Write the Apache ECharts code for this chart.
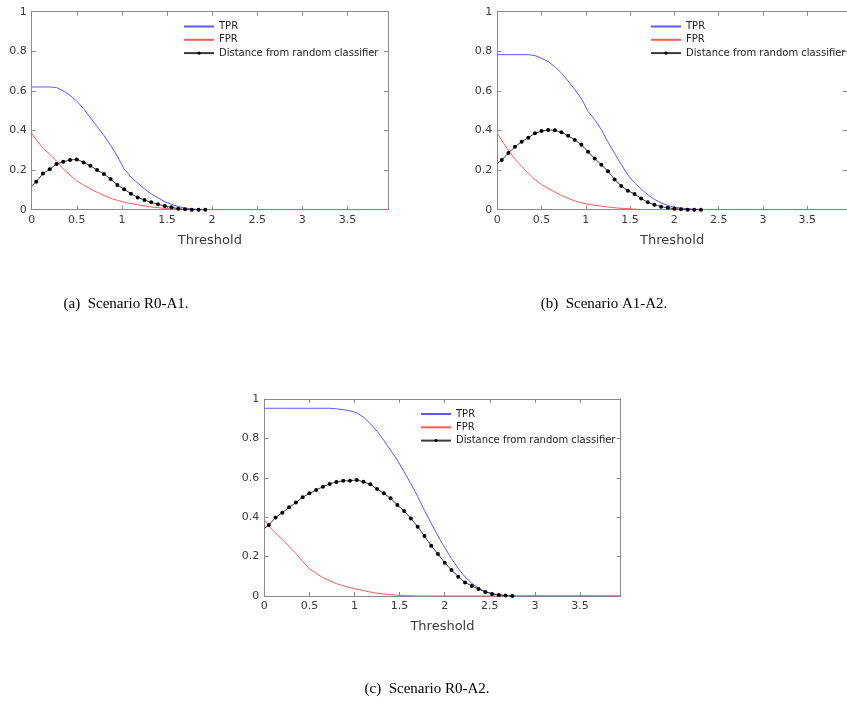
<!DOCTYPE html>
<html><head><meta charset="utf-8">
<script src="https://cdn.jsdelivr.net/npm/echarts@6/dist/echarts.min.js"></script>
<style>html,body{margin:0;padding:0;background:#fff}#c{width:847px;height:704px}</style>
</head><body><div id="c"></div><script>
// Threshold sample points (x values)
const thresholds = [0, 0.05, 0.125, 0.2, 0.275, 0.35, 0.425, 0.5, 0.575, 0.65, 0.725, 0.8, 0.875, 0.95,
  1.025, 1.1, 1.175, 1.25, 1.325, 1.4, 1.475, 1.55, 1.625, 1.7, 1.775, 1.85, 1.925, 2.0, 2.075, 2.15,
  2.225, 2.3, 2.375, 2.45, 2.525, 2.6, 2.675, 2.75, 2.825, 2.9, 2.975, 3.05, 3.125, 3.2, 3.275, 3.35,
  3.425, 3.5, 3.575, 3.65, 3.725, 3.8, 3.875, 3.95];

const xTickLabels = ['0', '0.5', '1', '1.5', '2', '2.5', '3', '3.5'];
const yTickLabels = ['0', '0.2', '0.4', '0.6', '0.8', '1'];
const seriesNames = ['TPR', 'FPR', 'Distance from random classifier'];
const captions = ['(a)  Scenario R0-A1.', '(b)  Scenario A1-A2.', '(c)  Scenario R0-A2.'];

// Scenario R0-A1
const tprA = [0.62, 0.62, 0.62, 0.62, 0.617, 0.60, 0.578, 0.548, 0.51, 0.465, 0.42, 0.375, 0.325, 0.27,
  0.205, 0.165, 0.135, 0.105, 0.08, 0.06, 0.04, 0.027, 0.016, 0.008, 0.004, 0.001, 0,
  0, 0, 0, 0, 0, 0, 0, 0, 0, 0, 0, 0, 0, 0, 0, 0, 0, 0, 0, 0, 0, 0, 0, 0, 0, 0, 0];
const fprA = [0.385, 0.355, 0.31, 0.28, 0.245, 0.205, 0.175, 0.145, 0.125, 0.105, 0.088, 0.072, 0.058, 0.047,
  0.038, 0.031, 0.025, 0.019, 0.014, 0.01, 0.007, 0.004, 0.002, 0.001,
  0, 0, 0, 0, 0, 0, 0, 0, 0, 0, 0, 0, 0, 0, 0, 0, 0, 0, 0, 0, 0, 0, 0, 0, 0, 0, 0, 0, 0, 0];
const distA = [0.12, 0.141, 0.183, 0.204, 0.231, 0.242, 0.251, 0.254, 0.239, 0.222, 0.200, 0.180, 0.155,
  0.125, 0.103, 0.081, 0.062, 0.049, 0.037, 0.027, 0.019, 0.012, 0.005, 0.002, 0, 0, 0];

// Scenario A1-A2
const tprB = [0.783, 0.783, 0.783, 0.783, 0.783, 0.783, 0.778, 0.765, 0.748, 0.722, 0.69, 0.65, 0.607, 0.56,
  0.497, 0.455, 0.405, 0.342, 0.285, 0.228, 0.175, 0.135, 0.105, 0.075, 0.052, 0.034, 0.021, 0.013,
  0.008, 0.005, 0.003, 0.001,
  0, 0, 0, 0, 0, 0, 0, 0, 0, 0, 0, 0, 0, 0, 0, 0, 0, 0, 0, 0, 0, 0];
const fprB = [0.386, 0.35, 0.30, 0.255, 0.218, 0.185, 0.152, 0.128, 0.107, 0.089, 0.072, 0.057, 0.045, 0.035,
  0.028, 0.022, 0.018, 0.014, 0.010, 0.007, 0.005, 0.003, 0.001,
  0, 0, 0, 0, 0, 0, 0, 0, 0, 0, 0, 0, 0, 0, 0, 0, 0, 0, 0, 0, 0, 0, 0, 0, 0, 0, 0, 0, 0, 0, 0];
const distB = [0.234, 0.251, 0.286, 0.318, 0.343, 0.364, 0.386, 0.397, 0.402, 0.401, 0.391, 0.374, 0.352,
  0.328, 0.293, 0.259, 0.227, 0.194, 0.153, 0.12, 0.096, 0.079, 0.057, 0.037, 0.025, 0.015, 0.010,
  0.005, 0.002, 0, 0, 0];

// Scenario R0-A2
const tprC = [0.953, 0.953, 0.953, 0.953, 0.953, 0.953, 0.953, 0.953, 0.953, 0.953, 0.953, 0.95, 0.946, 0.94,
  0.93, 0.908, 0.875, 0.837, 0.79, 0.74, 0.69, 0.63, 0.57, 0.505, 0.435, 0.37, 0.305, 0.245, 0.19,
  0.14, 0.097, 0.064, 0.04, 0.023, 0.012, 0.006, 0.002, 0.001,
  0, 0, 0, 0, 0, 0, 0, 0, 0, 0, 0, 0, 0, 0, 0, 0];
const fprC = [0.386, 0.355, 0.32, 0.285, 0.252, 0.215, 0.175, 0.138, 0.115, 0.093, 0.077, 0.063, 0.052, 0.042,
  0.035, 0.027, 0.02, 0.014, 0.01, 0.007, 0.004, 0.002, 0.001,
  0, 0, 0, 0, 0, 0, 0, 0, 0, 0, 0, 0, 0, 0, 0, 0, 0, 0, 0, 0, 0, 0, 0, 0, 0, 0, 0, 0, 0, 0, 0];
const distC = [0.343, 0.36, 0.399, 0.423, 0.45, 0.474, 0.501, 0.521, 0.538, 0.555, 0.569, 0.579, 0.585,
  0.585, 0.589, 0.58, 0.567, 0.543, 0.521, 0.496, 0.462, 0.431, 0.394, 0.352, 0.305, 0.255, 0.213,
  0.169, 0.132, 0.098, 0.069, 0.051, 0.036, 0.02, 0.01, 0.005, 0.002, 0];

const scenarios = [
  {tpr: tprA, fpr: fprA, dist: distA},
  {tpr: tprB, fpr: fprB, dist: distB},
  {tpr: tprC, fpr: fprC, dist: distC}
];

// Layout (pixels)
const grids = [
  {left: 31.7, top: 11.7, width: 356.3, height: 198},
  {left: 497.3, top: 11.7, width: 356.3, height: 198},
  {left: 264.3, top: 399, width: 356.3, height: 197}
];
const legendPos = [{left: 183, top: 20.5}, {left: 650, top: 20.5}, {left: 420, top: 408}];
const captionPos = [[126, 304], [604, 304], [427, 689]];

const AX = '#8a8a8a', TXT = '#3a3a3a', BLUE = '#5a5aff', RED = '#ff5c5c';
const sans = 'DejaVu Sans';

const xAxis = [], yAxis = [], series = [], legend = [], graphic = [];
grids.forEach((g, i) => {
  const line = {show: true, onZero: false, lineStyle: {color: AX, width: 1}};
  const tick = {show: true, inside: true, length: 4, lineStyle: {color: AX, width: 1}};
  xAxis.push({
    type: 'value', gridIndex: i, position: 'bottom', min: 0, max: 3.95, interval: 0.5,
    axisLine: line, axisTick: tick, splitLine: {show: false},
    axisLabel: {fontSize: 11, color: TXT, fontFamily: sans, margin: 5, showMaxLabel: false,
      formatter: v => { const k = Math.round(v / 0.5); return Math.abs(v - k * 0.5) < 1e-9 ? (xTickLabels[k] || '') : ''; }},
    name: 'Threshold', nameLocation: 'middle', nameGap: 24,
    nameTextStyle: {fontSize: 13, color: TXT, fontFamily: sans}
  });
  xAxis.push({
    type: 'value', gridIndex: i, position: 'top', min: 0, max: 3.95, interval: 0.5,
    axisLine: line, axisTick: tick, splitLine: {show: false}, axisLabel: {show: false}
  });
  yAxis.push({
    type: 'value', gridIndex: i, position: 'left', min: 0, max: 1, interval: 0.2,
    axisLine: line, axisTick: tick, splitLine: {show: false},
    axisLabel: {fontSize: 11, color: TXT, fontFamily: sans, margin: 5,
      formatter: v => yTickLabels[Math.round(v / 0.2)]}
  });
  yAxis.push({
    type: 'value', gridIndex: i, position: 'right', min: 0, max: 1, interval: 0.2,
    axisLine: line, axisTick: tick, splitLine: {show: false}, axisLabel: {show: false}
  });
  const sc = scenarios[i];
  const pairs = ys => ys.map((v, j) => [thresholds[j], v]);
  series.push({
    type: 'line', name: seriesNames[0], xAxisIndex: 2 * i, yAxisIndex: 2 * i, data: pairs(sc.tpr),
    symbol: 'none', lineStyle: {color: BLUE, width: 1}, itemStyle: {color: BLUE}, z: 2
  });
  series.push({
    type: 'line', name: seriesNames[1], xAxisIndex: 2 * i, yAxisIndex: 2 * i, data: pairs(sc.fpr),
    symbol: 'none', lineStyle: {color: RED, width: 1}, itemStyle: {color: RED}, z: 3
  });
  const dd = pairs(sc.dist).map((p, j) => j === 0 ? {value: p, symbol: 'none'} : p);
  series.push({
    type: 'line', name: seriesNames[2], xAxisIndex: 2 * i, yAxisIndex: 2 * i, data: dd,
    symbol: 'circle', symbolSize: 4, showAllSymbol: true,
    lineStyle: {color: '#3a3a3a', width: 1}, itemStyle: {color: '#000'}, z: 4
  });
  legend.push({
    orient: 'vertical', left: legendPos[i].left, top: legendPos[i].top,
    itemWidth: 30, itemHeight: 4, itemGap: 1.3, padding: 0,
    data: [
      {name: seriesNames[0], itemStyle: {opacity: 0}},
      {name: seriesNames[1], itemStyle: {opacity: 0}},
      {name: seriesNames[2]}
    ],
    selectedMode: false,
    textStyle: {fontSize: 10, color: '#222', fontFamily: sans, lineHeight: 12}
  });
  graphic.push({
    type: 'text', x: captionPos[i][0], y: captionPos[i][1],
    style: {text: captions[i], fill: '#000', font: '15px "Liberation Serif"', align: 'center', verticalAlign: 'middle'}
  });
});

const chart = echarts.init(document.getElementById('c'), null, {renderer: 'canvas'});
chart.setOption({
  animation: false,
  backgroundColor: '#fff',
  grid: grids, xAxis, yAxis, series, legend, graphic
});
</script></body></html>
